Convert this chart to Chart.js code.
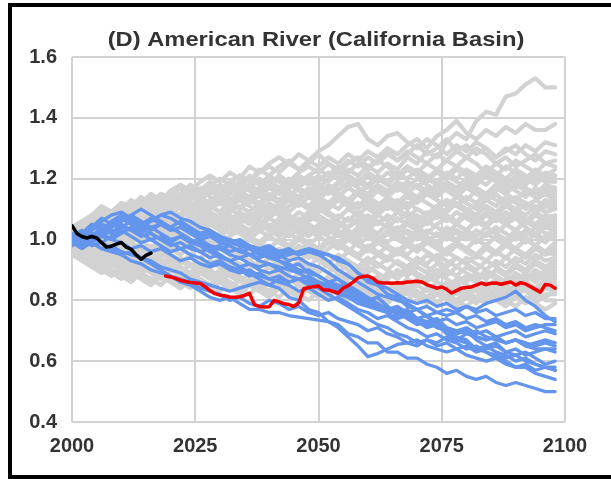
<!DOCTYPE html>
<html>
<head>
<meta charset="utf-8">
<script src="https://cdn.jsdelivr.net/npm/chart.js@4.4.1/dist/chart.umd.min.js"></script>
<style>
html,body{margin:0;padding:0;overflow:hidden;background:#fff;}
#wrap{position:relative;width:611px;height:479px;}
#frame{position:absolute;left:8px;top:3px;width:800px;height:476px;border:4px solid #000;box-sizing:border-box;pointer-events:none;}
canvas{position:absolute;left:0;top:0;}
</style>
</head>
<body>
<div id="wrap"><canvas id="c" width="611" height="479"></canvas><div id="frame"></div></div>
<script>
const chartTitle = "(D) American River (California Basin)";
const xTicks = [2000, 2025, 2050, 2075, 2100];
const yTicks = [0.4, 0.6, 0.8, 1.0, 1.2, 1.4, 1.6];

const years = [2000,2002,2004,2006,2008,2010,2012,2014,2016,2018,
 2020,2022,2024,2026,2028,2030,2032,2034,2036,2038,
 2040,2042,2044,2046,2048,2050,2052,2054,2056,2058,
 2060,2062,2064,2066,2068,2070,2072,2074,2076,2078,
 2080,2082,2084,2086,2088,2090,2092,2094,2096,2098];

const observedYears = [2000,2001,2002,2003,2004,2005,2006,2007,2008,2009,2010,2011,2012,2013,2014,2015,2016];
const observed = [1.045,1.02,1.01,1.005,1.01,1.005,0.99,0.975,0.978,0.985,0.99,0.975,0.968,0.95,0.935,0.948,0.955];

const redYears = [2019,2020,2021,2022,2023,2024,2025,2026,2027,2028,
 2029,2030,2031,2032,2033,2034,2035,2036,2037,2038,
 2039,2040,2041,2042,2043,2044,2045,2046,2047,2048,
 2049,2050,2051,2052,2053,2054,2055,2056,2057,2058,
 2059,2060,2061,2062,2063,2064,2065,2066,2067,2068,
 2069,2070,2071,2072,2073,2074,2075,2076,2077,2078,
 2079,2080,2081,2082,2083,2084,2085,2086,2087,2088,
 2089,2090,2091,2092,2093,2094,2095,2096,2097,2098];
const redRun = [0.880,0.877,0.872,0.866,0.862,0.859,0.857,0.855,0.845,0.832,
 0.822,0.817,0.815,0.811,0.810,0.812,0.816,0.823,0.786,0.780,
 0.778,0.779,0.800,0.795,0.789,0.786,0.780,0.792,0.838,0.842,
 0.845,0.847,0.834,0.834,0.829,0.824,0.840,0.848,0.860,0.874,
 0.878,0.880,0.873,0.860,0.857,0.857,0.856,0.858,0.857,0.860,
 0.861,0.863,0.860,0.851,0.846,0.840,0.844,0.836,0.824,0.832,
 0.840,0.842,0.844,0.850,0.857,0.852,0.856,0.857,0.853,0.857,
 0.860,0.850,0.858,0.854,0.845,0.836,0.827,0.852,0.850,0.840];

const blueRuns = [
 [1.00,1.02,1.05,1.03,1.06,1.08,1.06,1.04,1.06,1.08, 1.07,1.05,1.03,1.01,1.02,1.00,0.99,0.98,0.97,0.96, 0.97,0.95,0.96,0.95,0.96,0.95,0.95,0.94,0.92,0.89, 0.86,0.85,0.82,0.81,0.78,0.77,0.745,0.73,0.70,0.68, 0.67,0.64,0.63,0.61,0.60,0.58,0.58,0.56,0.55,0.54],
 [0.99,1.01,1.03,1.06,1.08,1.09,1.07,1.05,1.03,1.05, 1.04,1.02,1.00,0.99,0.97,0.98,0.96,0.97,0.95,0.94, 0.95,0.93,0.91,0.92,0.89,0.88,0.86,0.87,0.84,0.82, 0.80,0.81,0.78,0.75,0.76,0.73,0.71,0.72,0.69,0.67, 0.66,0.64,0.65,0.63,0.62,0.60,0.61,0.59,0.58,0.57],
 [1.01,0.99,1.01,1.03,1.02,1.04,1.03,1.05,1.06,1.08, 1.09,1.07,1.06,1.04,1.03,1.01,1.00,0.99,0.975,0.96, 0.94,0.93,0.92,0.90,0.89,0.88,0.86,0.85,0.84,0.82, 0.80,0.81,0.78,0.76,0.77,0.74,0.73,0.74,0.71,0.69, 0.70,0.67,0.65,0.66,0.63,0.62,0.63,0.61,0.59,0.60],
 [1.00,0.98,0.99,0.97,0.96,0.95,0.93,0.92,0.90,0.89, 0.88,0.86,0.85,0.83,0.81,0.80,0.81,0.79,0.77,0.77, 0.76,0.76,0.75,0.745,0.74,0.735,0.73,0.71,0.68,0.65, 0.615,0.625,0.64,0.655,0.66,0.65,0.67,0.66,0.68,0.67, 0.69,0.68,0.67,0.68,0.66,0.67,0.66,0.65,0.66,0.65],
 [1.02,1.00,0.98,0.99,0.97,0.95,0.96,0.94,0.92,0.90, 0.88,0.87,0.86,0.84,0.83,0.82,0.80,0.81,0.79,0.78, 0.80,0.79,0.77,0.78,0.76,0.75,0.76,0.74,0.73,0.72, 0.70,0.71,0.69,0.68,0.66,0.67,0.65,0.64,0.63,0.64, 0.62,0.61,0.60,0.61,0.59,0.58,0.59,0.57,0.58,0.57],
 [0.99,1.01,0.99,0.97,0.98,0.96,0.95,0.94,0.93,0.91, 0.90,0.89,0.87,0.86,0.85,0.84,0.83,0.84,0.85,0.86, 0.85,0.87,0.86,0.87,0.86,0.85,0.84,0.82,0.81,0.79, 0.78,0.77,0.76,0.77,0.75,0.74,0.72,0.73,0.71,0.70, 0.69,0.70,0.68,0.67,0.66,0.67,0.65,0.64,0.64,0.63],
 [1.00,1.02,1.00,1.03,1.05,1.04,1.06,1.05,1.07,1.05, 1.04,1.06,1.04,1.02,1.03,1.01,0.99,1.00,0.98,0.97, 0.98,0.96,0.97,0.95,0.96,0.95,0.93,0.90,0.88,0.86, 0.84,0.82,0.81,0.80,0.79,0.77,0.78,0.76,0.75,0.76, 0.74,0.75,0.73,0.74,0.72,0.73,0.71,0.72,0.71,0.70],
 [0.98,1.00,1.02,1.01,1.03,1.02,1.04,1.03,1.02,1.00, 0.99,1.01,0.99,0.98,0.96,0.97,0.95,0.94,0.95,0.93, 0.92,0.91,0.90,0.89,0.87,0.86,0.84,0.83,0.81,0.80, 0.79,0.78,0.77,0.78,0.76,0.77,0.75,0.76,0.77,0.76, 0.78,0.77,0.79,0.80,0.81,0.83,0.80,0.78,0.75,0.73],
 [1.01,1.03,1.01,1.04,1.02,1.05,1.03,1.01,1.02,1.00, 0.98,0.99,0.97,0.96,0.97,0.95,0.93,0.94,0.92,0.91, 0.92,0.90,0.91,0.89,0.90,0.88,0.86,0.84,0.83,0.81, 0.80,0.78,0.77,0.76,0.75,0.74,0.75,0.73,0.74,0.72, 0.73,0.71,0.72,0.73,0.71,0.72,0.70,0.71,0.72,0.72],
 [0.99,0.97,0.99,1.01,1.00,1.02,1.04,1.02,1.00,1.01, 0.99,0.97,0.98,0.96,0.94,0.95,0.93,0.91,0.92,0.90, 0.89,0.90,0.88,0.87,0.88,0.86,0.85,0.83,0.82,0.80, 0.79,0.77,0.76,0.74,0.75,0.73,0.72,0.73,0.71,0.70, 0.71,0.69,0.70,0.68,0.69,0.70,0.68,0.69,0.70,0.69],
 [1.00,1.02,1.04,1.07,1.05,1.07,1.05,1.03,1.04,1.02, 1.00,1.01,0.99,1.00,0.98,0.97,0.98,0.96,0.95,0.96, 0.94,0.95,0.93,0.94,0.92,0.91,0.89,0.87,0.85,0.83, 0.81,0.79,0.77,0.76,0.74,0.72,0.73,0.71,0.70,0.69, 0.70,0.68,0.67,0.68,0.66,0.67,0.65,0.66,0.67,0.66],
 [1.02,1.00,1.01,0.99,1.01,1.03,1.01,0.99,1.00,0.98, 0.96,0.97,0.95,0.94,0.92,0.93,0.91,0.90,0.88,0.89, 0.87,0.86,0.85,0.83,0.84,0.82,0.80,0.81,0.79,0.77, 0.76,0.74,0.75,0.73,0.71,0.70,0.68,0.69,0.67,0.66, 0.64,0.65,0.63,0.62,0.61,0.62,0.60,0.59,0.58,0.58],
 [0.98,1.00,1.03,1.05,1.04,1.06,1.08,1.06,1.04,1.05, 1.03,1.04,1.02,1.00,1.01,0.99,0.98,0.96,0.97,0.95, 0.96,0.94,0.95,0.96,0.97,0.96,0.95,0.93,0.92,0.89, 0.87,0.85,0.84,0.82,0.80,0.79,0.80,0.78,0.79,0.77, 0.78,0.76,0.77,0.75,0.76,0.77,0.75,0.76,0.74,0.74],
 [1.01,0.99,1.00,1.02,1.00,0.99,0.97,0.98,0.96,0.97, 0.95,0.93,0.94,0.92,0.91,0.92,0.90,0.89,0.90,0.88, 0.87,0.88,0.86,0.87,0.85,0.84,0.82,0.80,0.78,0.76, 0.74,0.72,0.71,0.69,0.68,0.66,0.67,0.65,0.66,0.64, 0.65,0.63,0.64,0.65,0.63,0.64,0.62,0.63,0.64,0.64],
 [1.00,1.02,1.00,1.02,1.04,1.06,1.08,1.10,1.08,1.06, 1.04,1.02,1.00,0.98,0.96,0.94,0.93,0.91,0.89,0.87, 0.85,0.84,0.81,0.80,0.77,0.76,0.73,0.72,0.69,0.68, 0.66,0.66,0.63,0.63,0.61,0.61,0.59,0.58,0.56,0.57, 0.55,0.54,0.55,0.53,0.52,0.53,0.52,0.51,0.50,0.50]
];

const grayRuns = [
 [1.02,1.05,1.03,1.07,1.06,1.09,1.08,1.11,1.09,1.12, 1.14,1.12,1.15,1.13,1.16,1.14,1.17,1.15,1.18,1.16, 1.19,1.17,1.20,1.18,1.21,1.19,1.22,1.20,1.23,1.21, 1.24,1.22,1.25,1.23,1.27,1.25,1.29,1.27,1.32,1.35, 1.33,1.39,1.42,1.41,1.47,1.48,1.51,1.53,1.50,1.50],
 [1.00,1.03,1.06,1.04,1.08,1.07,1.10,1.12,1.10,1.13, 1.15,1.13,1.17,1.15,1.18,1.20,1.18,1.21,1.19,1.22, 1.24,1.22,1.25,1.23,1.26,1.24,1.27,1.25,1.28,1.26, 1.29,1.27,1.30,1.28,1.31,1.33,1.30,1.34,1.36,1.39, 1.35,1.33,1.36,1.34,1.37,1.35,1.38,1.36,1.36,1.38],
 [1.03,1.01,1.05,1.08,1.06,1.10,1.08,1.12,1.14,1.12, 1.16,1.18,1.16,1.19,1.21,1.19,1.22,1.20,1.24,1.22, 1.25,1.27,1.25,1.28,1.26,1.29,1.31,1.34,1.37,1.38, 1.33,1.31,1.34,1.35,1.32,1.30,1.33,1.31,1.28,1.31, 1.29,1.32,1.30,1.27,1.30,1.28,1.31,1.29,1.32,1.31],
 [0.99,1.02,1.04,1.02,1.06,1.09,1.07,1.10,1.08,1.12, 1.10,1.14,1.16,1.14,1.17,1.15,1.19,1.21,1.19,1.23, 1.21,1.24,1.26,1.23,1.25,1.28,1.25,1.22,1.25,1.27, 1.24,1.26,1.29,1.26,1.28,1.31,1.28,1.30,1.33,1.29, 1.31,1.28,1.30,1.27,1.29,1.31,1.28,1.26,1.29,1.28],
 [1.04,1.02,1.05,1.03,1.07,1.05,1.09,1.07,1.11,1.09, 1.13,1.11,1.14,1.17,1.15,1.18,1.16,1.19,1.17,1.20, 1.18,1.21,1.19,1.22,1.24,1.22,1.25,1.23,1.26,1.24, 1.27,1.25,1.28,1.26,1.29,1.27,1.25,1.28,1.26,1.29, 1.27,1.30,1.28,1.25,1.27,1.24,1.26,1.28,1.25,1.26],
 [1.01,0.99,1.03,1.01,1.04,1.02,1.06,1.04,1.08,1.06, 1.10,1.08,1.12,1.10,1.13,1.15,1.13,1.16,1.14,1.17, 1.19,1.17,1.20,1.18,1.21,1.23,1.21,1.24,1.22,1.25, 1.23,1.26,1.24,1.21,1.24,1.22,1.25,1.23,1.26,1.24, 1.27,1.25,1.22,1.25,1.23,1.26,1.24,1.22,1.25,1.24],
 [1.02,1.04,1.02,1.05,1.07,1.05,1.08,1.06,1.09,1.11, 1.09,1.12,1.10,1.13,1.11,1.14,1.12,1.15,1.17,1.15, 1.18,1.16,1.19,1.17,1.20,1.18,1.16,1.19,1.17,1.20, 1.18,1.21,1.19,1.22,1.20,1.23,1.21,1.19,1.22,1.20, 1.23,1.21,1.24,1.22,1.20,1.23,1.21,1.19,1.22,1.21],
 [0.98,1.01,0.99,1.02,1.00,1.04,1.02,1.05,1.03,1.07, 1.05,1.08,1.10,1.08,1.11,1.09,1.12,1.10,1.14,1.12, 1.15,1.13,1.16,1.14,1.17,1.15,1.18,1.16,1.19,1.17, 1.15,1.18,1.16,1.19,1.17,1.20,1.18,1.16,1.19,1.17, 1.20,1.18,1.21,1.19,1.17,1.20,1.18,1.21,1.19,1.19],
 [1.00,1.03,1.05,1.03,1.06,1.04,1.07,1.05,1.08,1.06, 1.09,1.07,1.10,1.08,1.11,1.09,1.12,1.10,1.13,1.11, 1.14,1.12,1.15,1.13,1.16,1.14,1.17,1.15,1.13,1.16, 1.14,1.17,1.15,1.18,1.16,1.14,1.17,1.15,1.18,1.16, 1.19,1.17,1.15,1.18,1.16,1.19,1.17,1.15,1.18,1.17],
 [1.01,0.98,1.00,1.02,1.00,1.03,1.01,1.04,1.02,1.05, 1.03,1.06,1.04,1.07,1.05,1.08,1.06,1.09,1.07,1.10, 1.08,1.11,1.09,1.12,1.10,1.13,1.11,1.14,1.12,1.15, 1.13,1.16,1.14,1.12,1.15,1.13,1.16,1.14,1.17,1.15, 1.13,1.16,1.14,1.17,1.15,1.13,1.16,1.14,1.16,1.15],
 [0.97,1.00,1.02,1.05,1.03,1.01,1.04,1.07,1.05,1.08, 1.06,1.04,1.07,1.10,1.08,1.06,1.09,1.11,1.09,1.12, 1.10,1.08,1.11,1.13,1.11,1.09,1.12,1.10,1.13,1.15, 1.12,1.10,1.13,1.11,1.14,1.12,1.15,1.13,1.11,1.14, 1.12,1.10,1.13,1.15,1.12,1.14,1.11,1.13,1.15,1.13],
 [1.03,1.00,0.98,1.01,1.03,1.01,0.99,1.02,1.04,1.02, 1.05,1.07,1.05,1.03,1.06,1.08,1.06,1.09,1.07,1.05, 1.08,1.10,1.08,1.06,1.09,1.11,1.09,1.07,1.10,1.12, 1.10,1.08,1.11,1.09,1.12,1.10,1.08,1.11,1.13,1.11, 1.09,1.12,1.10,1.08,1.11,1.09,1.12,1.10,1.12,1.11],
 [1.00,0.97,0.99,0.96,0.98,1.01,0.99,1.02,1.05,1.03, 1.06,1.04,1.02,1.05,1.08,1.06,1.04,1.07,1.05,1.08, 1.11,1.09,1.07,1.05,1.08,1.06,1.04,1.07,1.10,1.08, 1.06,1.09,1.12,1.10,1.08,1.06,1.09,1.07,1.10,1.12, 1.10,1.08,1.11,1.09,1.07,1.10,1.12,1.09,1.11,1.10],
 [0.99,1.02,1.00,0.97,1.00,0.98,1.01,0.99,1.02,1.00, 1.03,1.01,1.04,1.02,1.05,1.03,1.06,1.04,1.02,1.05, 1.03,1.06,1.04,1.07,1.05,1.03,1.06,1.04,1.07,1.05, 1.08,1.06,1.04,1.07,1.05,1.08,1.06,1.09,1.07,1.05, 1.08,1.06,1.09,1.07,1.05,1.08,1.06,1.09,1.07,1.08],
 [1.02,0.99,1.01,0.98,0.96,0.99,1.01,0.99,1.02,1.00, 0.98,1.01,1.03,1.01,0.99,1.02,1.04,1.02,1.00,1.03, 1.05,1.03,1.01,1.04,1.02,1.05,1.03,1.01,1.04,1.06, 1.04,1.02,1.05,1.03,1.06,1.04,1.02,1.05,1.07,1.05, 1.03,1.06,1.04,1.07,1.05,1.03,1.06,1.04,1.07,1.06],
 [1.01,1.04,1.06,1.04,1.07,1.09,1.07,1.05,1.08,1.06, 1.04,1.07,1.05,1.03,1.06,1.04,1.02,1.05,1.03,1.06, 1.04,1.02,1.05,1.03,1.01,1.04,1.02,1.05,1.03,1.01, 1.04,1.06,1.04,1.02,1.05,1.03,1.06,1.04,1.02,1.05, 1.03,1.06,1.04,1.02,1.05,1.03,1.06,1.04,1.06,1.05],
 [0.98,0.96,0.99,0.97,1.00,0.98,0.96,0.99,0.97,1.00, 1.02,1.00,0.98,1.01,0.99,1.02,1.00,0.98,1.01,0.99, 1.02,1.04,1.02,1.00,1.03,1.01,0.99,1.02,1.00,1.03, 1.01,0.99,1.02,1.04,1.02,1.00,1.03,1.01,1.04,1.02, 1.00,1.03,1.01,1.04,1.02,1.00,1.03,1.01,1.04,1.03],
 [1.00,1.02,1.04,1.02,1.00,0.97,0.99,0.97,0.95,0.98, 0.96,0.99,0.97,1.00,0.98,1.01,0.99,0.97,1.00,0.98, 1.01,0.99,1.02,1.00,0.98,1.01,0.99,1.02,1.00,0.98, 1.01,0.99,1.02,1.00,0.98,1.01,0.99,1.02,1.00,1.03, 1.01,0.99,1.02,1.00,0.98,1.01,0.99,1.02,1.00,1.01],
 [1.04,1.06,1.08,1.11,1.09,1.12,1.10,1.08,1.11,1.09, 1.12,1.10,1.08,1.06,1.09,1.07,1.05,1.08,1.06,1.04, 1.07,1.05,1.03,1.06,1.04,1.02,1.05,1.03,1.01,1.04, 1.02,1.00,1.03,1.01,0.99,1.02,1.00,0.98,1.01,0.99, 1.02,1.00,0.98,1.01,0.99,1.02,1.00,0.98,1.01,1.00],
 [0.97,0.95,0.93,0.96,0.94,0.92,0.95,0.93,0.96,0.94, 0.97,0.95,0.98,0.96,0.99,0.97,0.95,0.98,0.96,0.99, 0.97,1.00,0.98,0.96,0.99,0.97,1.00,0.98,0.96,0.99, 0.97,0.95,0.98,0.96,0.99,0.97,1.00,0.98,0.96,0.99, 0.97,0.95,0.98,0.96,0.99,0.97,1.00,0.98,0.96,0.98],
 [1.02,1.00,1.03,1.05,1.03,1.01,1.04,1.02,1.00,1.03, 1.01,0.99,1.02,1.00,0.98,1.01,0.99,0.97,1.00,0.98, 1.01,0.99,0.97,1.00,0.98,0.96,0.99,0.97,1.00,0.98, 0.96,0.99,0.97,0.95,0.98,0.96,0.99,0.97,0.95,0.98, 0.96,0.94,0.97,0.95,0.98,0.96,0.94,0.97,0.95,0.96],
 [0.99,0.97,0.95,0.93,0.91,0.94,0.92,0.90,0.93,0.91, 0.94,0.92,0.95,0.93,0.91,0.94,0.92,0.95,0.93,0.96, 0.94,0.92,0.95,0.93,0.91,0.94,0.92,0.95,0.93,0.91, 0.94,0.92,0.90,0.93,0.91,0.94,0.92,0.95,0.93,0.91, 0.94,0.92,0.90,0.93,0.91,0.94,0.92,0.95,0.93,0.94],
 [1.03,1.05,1.03,1.06,1.04,1.02,1.00,1.03,1.01,0.99, 0.97,1.00,0.98,0.96,0.99,0.97,0.95,0.98,0.96,0.94, 0.97,0.95,0.93,0.96,0.94,0.97,0.95,0.93,0.96,0.94, 0.92,0.95,0.93,0.96,0.94,0.92,0.95,0.93,0.91,0.94, 0.92,0.95,0.93,0.91,0.94,0.92,0.90,0.93,0.91,0.93],
 [0.96,0.94,0.97,0.95,0.93,0.91,0.94,0.92,0.90,0.93, 0.91,0.89,0.92,0.90,0.93,0.91,0.89,0.92,0.90,0.88, 0.91,0.89,0.92,0.90,0.88,0.91,0.89,0.92,0.90,0.88, 0.91,0.89,0.87,0.90,0.88,0.91,0.89,0.92,0.90,0.88, 0.91,0.89,0.87,0.90,0.88,0.91,0.89,0.92,0.90,0.91],
 [1.01,0.99,0.96,0.98,0.96,0.94,0.97,0.95,0.93,0.96, 0.94,0.92,0.95,0.93,0.91,0.94,0.92,0.90,0.93,0.91, 0.94,0.92,0.90,0.93,0.91,0.89,0.92,0.90,0.88,0.91, 0.89,0.92,0.90,0.88,0.91,0.89,0.87,0.90,0.88,0.91, 0.89,0.87,0.90,0.88,0.86,0.89,0.87,0.90,0.88,0.90],
 [0.95,0.93,0.91,0.89,0.92,0.90,0.88,0.91,0.89,0.87, 0.90,0.88,0.86,0.89,0.87,0.90,0.88,0.86,0.89,0.87, 0.85,0.88,0.86,0.89,0.87,0.85,0.88,0.86,0.84,0.87, 0.85,0.88,0.86,0.84,0.87,0.85,0.88,0.86,0.84,0.87, 0.85,0.83,0.86,0.84,0.87,0.85,0.88,0.86,0.89,0.88],
 [1.00,0.97,0.99,0.96,0.94,0.92,0.90,0.93,0.91,0.89, 0.92,0.90,0.88,0.91,0.89,0.87,0.90,0.88,0.86,0.89, 0.87,0.85,0.88,0.86,0.84,0.87,0.85,0.88,0.86,0.84, 0.87,0.85,0.83,0.86,0.84,0.87,0.85,0.83,0.86,0.84, 0.82,0.85,0.83,0.86,0.84,0.82,0.85,0.83,0.86,0.87],
 [0.98,0.96,0.94,0.97,0.95,0.93,0.91,0.89,0.92,0.90, 0.88,0.86,0.89,0.87,0.85,0.88,0.86,0.84,0.87,0.85, 0.83,0.86,0.84,0.82,0.85,0.83,0.86,0.84,0.82,0.85, 0.83,0.86,0.84,0.82,0.85,0.83,0.81,0.84,0.82,0.85, 0.83,0.81,0.84,0.82,0.85,0.83,0.86,0.84,0.87,0.86],
 [1.02,0.99,0.97,0.95,0.93,0.96,0.94,0.92,0.90,0.88, 0.91,0.89,0.87,0.90,0.88,0.86,0.89,0.87,0.85,0.88, 0.86,0.84,0.87,0.85,0.83,0.86,0.84,0.82,0.85,0.83, 0.81,0.84,0.82,0.85,0.83,0.81,0.84,0.82,0.80,0.83, 0.81,0.84,0.82,0.80,0.83,0.81,0.84,0.82,0.85,0.84],
 [0.97,0.95,0.93,0.91,0.89,0.87,0.90,0.88,0.86,0.89, 0.87,0.85,0.88,0.86,0.84,0.87,0.85,0.83,0.86,0.84, 0.82,0.85,0.83,0.81,0.84,0.82,0.85,0.83,0.81,0.84, 0.82,0.80,0.83,0.81,0.84,0.82,0.80,0.83,0.81,0.79, 0.82,0.80,0.83,0.81,0.79,0.82,0.80,0.83,0.81,0.83],
 [0.99,0.97,0.95,0.92,0.90,0.88,0.86,0.89,0.87,0.85, 0.88,0.86,0.89,0.87,0.85,0.83,0.86,0.84,0.82,0.85, 0.83,0.86,0.84,0.82,0.80,0.83,0.81,0.84,0.82,0.80, 0.83,0.81,0.84,0.82,0.80,0.83,0.81,0.79,0.82,0.80, 0.83,0.81,0.79,0.82,0.80,0.78,0.81,0.79,0.82,0.82],
 [0.96,0.94,0.92,0.90,0.88,0.91,0.89,0.87,0.85,0.88, 0.86,0.84,0.87,0.85,0.83,0.86,0.84,0.82,0.85,0.83, 0.81,0.84,0.82,0.85,0.83,0.81,0.84,0.82,0.80,0.83, 0.81,0.79,0.82,0.80,0.83,0.81,0.79,0.82,0.80,0.78, 0.81,0.79,0.82,0.80,0.78,0.81,0.79,0.82,0.80,0.80],
 [1.00,0.97,0.94,0.92,0.95,0.93,0.91,0.89,0.87,0.90, 0.88,0.86,0.84,0.87,0.85,0.88,0.86,0.84,0.82,0.85, 0.83,0.81,0.84,0.82,0.85,0.83,0.81,0.84,0.82,0.80, 0.83,0.81,0.79,0.82,0.80,0.83,0.81,0.79,0.82,0.80, 0.78,0.81,0.79,0.82,0.80,0.78,0.81,0.79,0.77,0.79],
 [1.04,1.06,1.08,1.10,1.09,1.12,1.11,1.14,1.12,1.15, 1.14,1.17,1.15,1.13,1.16,1.14,1.12,1.15,1.13,1.16, 1.14,1.12,1.15,1.13,1.11,1.14,1.12,1.15,1.13,1.11, 1.14,1.12,1.10,1.13,1.11,1.14,1.12,1.10,1.13,1.11, 1.14,1.12,1.15,1.13,1.11,1.14,1.12,1.10,1.13,1.12],
 [1.03,1.06,1.04,1.07,1.05,1.03,1.06,1.04,1.07,1.05, 1.08,1.06,1.04,1.07,1.05,1.03,1.06,1.04,1.02,1.05, 1.03,1.01,1.04,1.02,1.05,1.03,1.01,0.99,1.02,1.00, 1.03,1.01,0.99,1.02,1.00,1.03,1.01,0.99,1.02,1.00, 1.03,1.01,1.04,1.02,1.00,1.03,1.01,1.04,1.02,1.02],
 [0.98,1.00,0.98,0.96,0.99,0.97,0.95,0.98,0.96,0.99, 0.97,0.95,0.98,0.96,0.94,0.97,0.95,0.98,0.96,0.94, 0.97,0.95,0.93,0.96,0.94,0.97,0.95,0.93,0.96,0.94, 0.97,0.95,0.93,0.96,0.94,0.92,0.95,0.93,0.96,0.94, 0.92,0.95,0.93,0.96,0.94,0.92,0.95,0.93,0.96,0.95],
 [1.00,0.98,0.95,0.97,0.95,0.97,0.94,0.92,0.95,0.93, 0.91,0.94,0.92,0.90,0.93,0.91,0.94,0.92,0.90,0.93, 0.91,0.89,0.92,0.90,0.88,0.91,0.89,0.92,0.90,0.88, 0.91,0.89,0.87,0.90,0.88,0.91,0.89,0.87,0.90,0.88, 0.86,0.89,0.87,0.90,0.88,0.86,0.89,0.87,0.90,0.89],
 [1.01,1.04,1.07,1.05,1.08,1.11,1.09,1.12,1.15,1.13, 1.16,1.14,1.17,1.15,1.18,1.16,1.19,1.17,1.20,1.18, 1.21,1.19,1.17,1.20,1.18,1.21,1.19,1.22,1.20,1.18, 1.21,1.19,1.22,1.20,1.23,1.21,1.19,1.22,1.20,1.23, 1.21,1.19,1.22,1.20,1.18,1.21,1.19,1.22,1.20,1.20],
 [0.99,1.01,1.04,1.02,1.05,1.03,1.06,1.09,1.07,1.10, 1.08,1.11,1.09,1.12,1.10,1.13,1.11,1.14,1.12,1.15, 1.13,1.16,1.14,1.17,1.15,1.13,1.16,1.14,1.17,1.15, 1.18,1.16,1.14,1.17,1.15,1.18,1.16,1.14,1.17,1.15, 1.18,1.16,1.14,1.17,1.15,1.18,1.16,1.14,1.17,1.16],
 [1.02,1.00,1.03,1.01,1.04,1.02,1.05,1.03,1.06,1.04, 1.07,1.05,1.08,1.06,1.09,1.07,1.10,1.08,1.06,1.09, 1.07,1.10,1.08,1.06,1.09,1.07,1.05,1.08,1.06,1.09, 1.07,1.05,1.08,1.06,1.09,1.07,1.05,1.08,1.06,1.09, 1.07,1.05,1.08,1.06,1.09,1.07,1.05,1.08,1.06,1.07],
 [1.03,1.05,1.08,1.06,1.09,1.07,1.10,1.13,1.11,1.14, 1.12,1.15,1.18,1.16,1.19,1.17,1.15,1.18,1.21,1.19, 1.17,1.20,1.18,1.21,1.19,1.17,1.20,1.23,1.21,1.19, 1.22,1.20,1.18,1.21,1.24,1.22,1.20,1.23,1.21,1.24, 1.22,1.20,1.23,1.21,1.24,1.22,1.20,1.23,1.21,1.23],
 [1.02,1.04,1.01,1.03,1.06,1.04,1.07,1.09,1.07,1.10, 1.08,1.11,1.09,1.07,1.10,1.12,1.10,1.13,1.11,1.09, 1.12,1.10,1.13,1.11,1.14,1.12,1.10,1.13,1.11,1.08, 1.11,1.09,1.12,1.10,1.07,1.10,1.08,1.11,1.09,1.12, 1.10,1.08,1.11,1.09,1.12,1.10,1.08,1.11,1.09,1.10],
 [0.99,1.01,1.03,1.00,1.02,1.05,1.03,1.06,1.04,1.02, 1.05,1.03,1.06,1.08,1.06,1.04,1.07,1.05,1.08,1.06, 1.04,1.07,1.05,1.03,1.06,1.08,1.06,1.04,1.07,1.05, 1.03,1.06,1.04,1.07,1.05,1.03,1.06,1.04,1.02,1.05, 1.03,1.06,1.04,1.02,1.05,1.07,1.04,1.02,1.05,1.04],
 [1.01,0.98,1.00,0.98,1.01,0.99,1.02,1.00,0.97,1.00, 0.98,1.01,0.99,0.97,1.00,0.98,1.01,1.03,1.01,0.99, 0.97,1.00,0.98,1.01,0.99,0.97,1.00,0.98,1.01,0.99, 0.97,1.00,0.98,0.96,0.99,0.97,1.00,0.98,0.96,0.99, 0.97,1.00,0.98,1.01,0.99,0.97,1.00,0.98,0.96,0.99],
 [0.97,0.99,0.96,0.94,0.96,0.93,0.95,0.97,0.94,0.92, 0.95,0.93,0.91,0.94,0.96,0.94,0.92,0.95,0.93,0.91, 0.94,0.92,0.90,0.93,0.95,0.93,0.91,0.89,0.92,0.90, 0.93,0.91,0.94,0.92,0.90,0.93,0.91,0.89,0.92,0.94, 0.92,0.90,0.93,0.91,0.89,0.92,0.90,0.93,0.91,0.92],
 [0.98,0.95,0.93,0.95,0.92,0.90,0.92,0.89,0.91,0.88, 0.86,0.89,0.87,0.90,0.88,0.86,0.89,0.87,0.85,0.88, 0.86,0.89,0.87,0.85,0.88,0.86,0.84,0.87,0.89,0.87, 0.85,0.88,0.86,0.84,0.87,0.85,0.88,0.86,0.84,0.86, 0.88,0.86,0.84,0.87,0.85,0.83,0.86,0.84,0.87,0.85],
 [1.00,1.03,1.06,1.09,1.07,1.10,1.13,1.11,1.09,1.12, 1.15,1.13,1.11,1.14,1.12,1.15,1.17,1.15,1.13,1.16, 1.14,1.17,1.15,1.13,1.16,1.18,1.16,1.14,1.17,1.15, 1.13,1.16,1.14,1.17,1.19,1.17,1.15,1.18,1.16,1.14, 1.17,1.15,1.13,1.16,1.18,1.16,1.14,1.17,1.15,1.14],
 [1.00,0.98,1.01,1.04,1.02,1.05,1.03,1.01,1.04,1.07, 1.05,1.03,1.06,1.09,1.07,1.05,1.08,1.06,1.09,1.07, 1.10,1.08,1.06,1.09,1.07,1.10,1.08,1.06,1.04,1.07, 1.05,1.08,1.06,1.09,1.07,1.05,1.08,1.10,1.08,1.06, 1.09,1.07,1.05,1.08,1.06,1.09,1.07,1.05,1.08,1.07],
 [1.00,1.03,1.00,0.98,1.00,0.97,0.99,0.96,0.98,0.96, 0.99,0.97,0.95,0.98,0.96,0.99,0.97,0.95,0.98,0.96, 0.94,0.97,0.95,0.98,0.96,0.94,0.97,0.99,0.97,0.95, 0.98,0.96,0.94,0.97,0.95,0.98,0.96,0.94,0.97,0.99, 0.97,0.95,0.98,0.96,0.94,0.97,0.95,0.98,0.96,0.97],
 [0.99,0.96,0.94,0.96,0.93,0.91,0.93,0.90,0.92,0.90, 0.93,0.91,0.89,0.92,0.90,0.88,0.91,0.89,0.92,0.90, 0.88,0.91,0.89,0.92,0.90,0.88,0.86,0.89,0.87,0.90, 0.88,0.86,0.89,0.87,0.90,0.88,0.86,0.89,0.87,0.85, 0.88,0.86,0.89,0.87,0.85,0.88,0.86,0.89,0.87,0.88],
 [1.02,1.05,1.03,1.06,1.09,1.07,1.10,1.08,1.11,1.14, 1.12,1.10,1.13,1.16,1.14,1.12,1.15,1.18,1.16,1.14, 1.17,1.15,1.18,1.16,1.14,1.17,1.15,1.18,1.21,1.19, 1.17,1.20,1.18,1.16,1.19,1.17,1.20,1.18,1.21,1.19, 1.17,1.20,1.18,1.21,1.19,1.17,1.20,1.18,1.21,1.19],
 [1.03,1.01,1.04,1.02,0.99,1.02,1.00,1.03,1.01,1.04, 1.02,1.04,1.02,1.05,1.03,1.01,1.04,1.02,1.00,1.03, 1.01,1.04,1.02,1.00,1.03,1.01,1.04,1.02,1.00,1.03, 1.01,0.99,1.02,1.00,1.03,1.01,0.99,1.02,1.00,1.03, 1.01,0.99,1.02,1.04,1.02,1.00,1.03,1.01,0.99,1.02],
 [0.97,0.95,0.92,0.90,0.92,0.89,0.87,0.89,0.86,0.88, 0.86,0.84,0.87,0.85,0.83,0.86,0.84,0.87,0.85,0.83, 0.86,0.84,0.82,0.85,0.83,0.86,0.84,0.82,0.85,0.83, 0.85,0.83,0.81,0.84,0.82,0.85,0.83,0.86,0.84,0.82, 0.85,0.83,0.81,0.84,0.82,0.85,0.83,0.81,0.84,0.83],
 [1.04,1.02,1.05,1.08,1.06,1.09,1.07,1.10,1.08,1.11, 1.09,1.12,1.10,1.13,1.11,1.09,1.12,1.10,1.13,1.11, 1.09,1.12,1.14,1.12,1.10,1.13,1.11,1.14,1.12,1.10, 1.13,1.11,1.14,1.12,1.10,1.13,1.15,1.13,1.11,1.14, 1.12,1.10,1.13,1.11,1.14,1.12,1.10,1.13,1.11,1.12]
];

const GRAY = '#d2d2d2';
const BLUE = '#6495ed';
const RED = '#f00000';
const BLACK = '#000000';
const TEXT = '#333333';

function pts(xs, ys) {
  const n = Math.min(xs.length, ys.length);
  const out = [];
  for (let i = 0; i < n; i++) out.push({x: xs[i], y: ys[i]});
  return out;
}
function line(data, color, order, width) {
  return {data, borderColor: color, backgroundColor: color, borderWidth: width, order,
          pointRadius: 0, tension: 0, fill: false, borderJoinStyle: 'round', borderCapStyle: 'round'};
}

const datasets = [];
datasets.push(line(pts(observedYears, observed), BLACK, 0, 3.5));
datasets.push(line(pts(redYears, redRun), RED, 1, 3.5));
blueRuns.forEach(r => datasets.push(line(pts(years, r), BLUE, 2, 3.3)));
grayRuns.forEach(r => datasets.push(line(pts(years, r), GRAY, 3, 4.2)));

const titlePlugin = {
  id: 'fixedTitle',
  afterDraw(chart) {
    const ctx = chart.ctx;
    ctx.save();
    ctx.font = 'bold 21px "Liberation Sans", Arial, sans-serif';
    ctx.fillStyle = TEXT;
    ctx.textAlign = 'center';
    ctx.textBaseline = 'alphabetic';
    ctx.translate(316, 46);
    ctx.scale(1.13, 1);
    ctx.fillText(chartTitle, 0, 0);
    ctx.restore();
  }
};

const tickFont = {family: '"Liberation Sans", Arial, sans-serif', size: 20, weight: 'bold'};

new Chart(document.getElementById('c'), {
  type: 'line',
  data: {datasets},
  options: {
    responsive: false,
    animation: false,
    devicePixelRatio: 1,
    events: [],
    layout: {padding: {top: 57, right: 46, left: 0, bottom: 0}},
    plugins: {legend: {display: false}, tooltip: {enabled: false}, title: {display: false}},
    scales: {
      x: {
        type: 'linear', min: 2000, max: 2100,
        afterBuildTicks: s => { s.ticks = xTicks.map(v => ({value: v})); },
        afterFit: s => { s.height = 57; },
        grid: {color: GRAY, lineWidth: 2, drawTicks: false},
        border: {display: false},
        ticks: {padding: 12, font: tickFont, color: TEXT, maxRotation: 0, autoSkip: false, callback: v => String(v)}
      },
      y: {
        type: 'linear', min: 0.4, max: 1.6,
        afterBuildTicks: s => { s.ticks = yTicks.map(v => ({value: v})); },
        afterFit: s => { s.width = 72; },
        grid: {color: GRAY, lineWidth: 2, drawTicks: false},
        border: {display: false},
        ticks: {padding: 15, font: tickFont, color: TEXT, autoSkip: false, callback: v => Number(v).toFixed(1)}
      }
    }
  },
  plugins: [titlePlugin]
});
</script>
</body>
</html>
